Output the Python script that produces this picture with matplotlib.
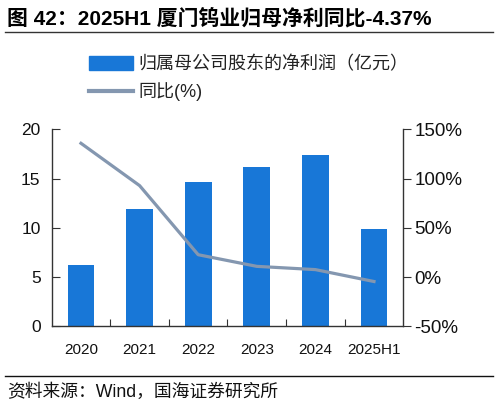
import matplotlib
matplotlib.use("Agg")
import matplotlib.pyplot as plt
import numpy as np
from matplotlib.lines import Line2D

plt.rcParams['font.family'] = ['Liberation Sans', 'Noto Sans CJK SC', 'DejaVu Sans']

# data
years = ["2020", "2021", "2022", "2023", "2024", "2025H1"]
profit = [6.27, 11.94, 14.64, 16.15, 17.43, 9.85]      # 亿元
yoy = [135.8, 92.9, 22.8, 11.0, 7.7, -4.37]            # %

bar_color = "#1877D7"
line_color = "#8497B0"
spine_color = "#333333"

fig = plt.figure(figsize=(4.98, 4.07), dpi=100)
ax = fig.add_axes([0.1038, 0.1978, 0.7060, 0.4845])

x = np.arange(len(years))
ax.bar(x, profit, width=0.46, color=bar_color, zorder=2)
ax.set_xlim(-0.5, len(years) - 0.5)
ax.set_ylim(0, 20)
ax.set_yticks([0, 5, 10, 15, 20])

ax2 = ax.twinx()
ax2.plot(x, yoy, color=line_color, linewidth=2.3, zorder=3)
ax2.set_ylim(-50, 150)
ax2.set_yticks([-50, 0, 50, 100, 150])
ax2.set_yticklabels([f"{v}%" for v in [-50, 0, 50, 100, 150]])

# category ticks sit at the boundaries, labels at the centres
ax.set_xticks(np.arange(0.5, len(years) - 0.5), minor=False)
ax.set_xticklabels([])
ax.set_xticks(x, minor=True)
ax.set_xticklabels(years, minor=True)
ax.tick_params(axis='x', which='major', direction='in', length=5, color=spine_color)
ax.tick_params(axis='x', which='minor', length=0, pad=12, labelsize=11, labelcolor='#111111')
ax.tick_params(axis='y', direction='in', length=6, color=spine_color, labelsize=12.5,
               pad=8, labelcolor='#111111')
ax2.tick_params(axis='y', direction='out', length=6, color=spine_color, labelsize=13.5,
                pad=2, labelcolor='#111111')

for a in (ax, ax2):
    a.spines['top'].set_visible(False)
    for s in ('left', 'right', 'bottom'):
        a.spines[s].set_color(spine_color)
        a.spines[s].set_linewidth(1.0)
ax.spines['right'].set_visible(False)
ax2.spines['left'].set_visible(False)
ax2.spines['bottom'].set_visible(False)

# legend above the plot
handles = [plt.Rectangle((0, 0), 1, 1, color=bar_color),
           Line2D([0], [0], color=line_color, linewidth=3)]
labels = ["归属母公司股东的净利润（亿元）", "同比(%)"]
fig.legend(handles, labels, loc='upper left', bbox_to_anchor=(0.179, 0.862),
           frameon=False, fontsize=13, handlelength=2.45, handleheight=0.8,
           handletextpad=0.3, labelspacing=0.5, borderpad=0, borderaxespad=0,
           labelcolor='#222222')

# title, rules and source
fig.text(0.014, 0.955, "图 42：2025H1 厦门钨业归母净利同比-4.37%", fontsize=15,
         fontweight='bold', va='center', ha='left')
fig.add_artist(Line2D([0.01, 0.99], [0.921, 0.921], color='#333333', linewidth=1.0))
fig.add_artist(Line2D([0.01, 0.99], [0.077, 0.077], color='#111111', linewidth=1.0))
fig.text(0.014, 0.037, "资料来源：Wind，国海证券研究所", fontsize=12.8, va='center',
         ha='left', color='#111111')

fig.savefig("out.png", dpi=100)
